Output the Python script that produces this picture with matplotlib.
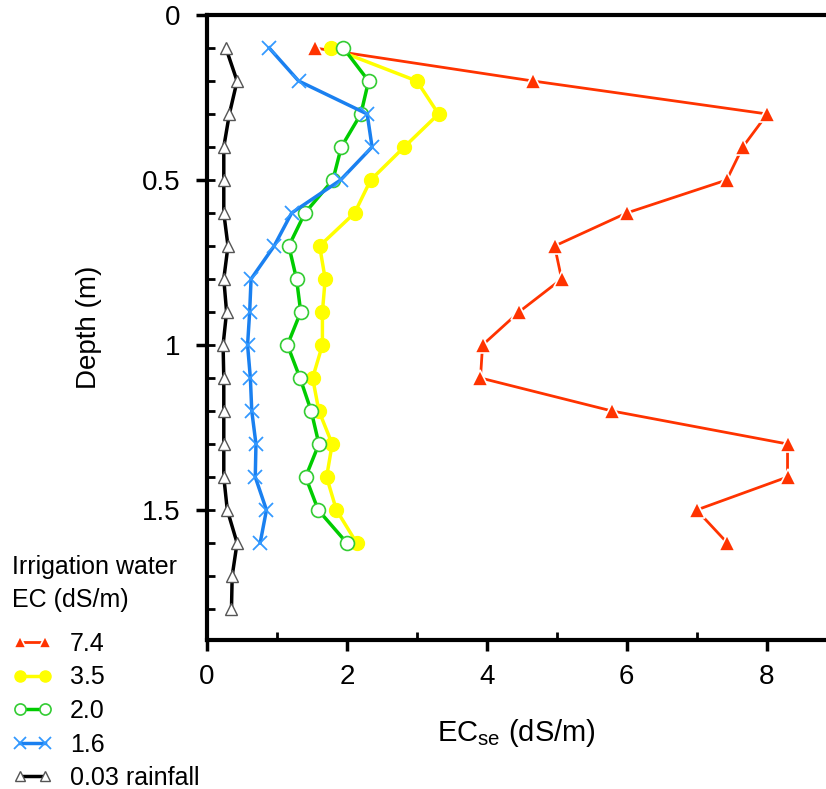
import matplotlib
matplotlib.use('Agg')
import matplotlib.pyplot as plt
from matplotlib.ticker import MultipleLocator

plt.rcParams['font.family'] = ['Liberation Sans', 'DejaVu Sans']
plt.rcParams['mathtext.fontset'] = 'custom'
plt.rcParams['mathtext.rm'] = 'Liberation Sans'

depth = [0.1, 0.2, 0.3, 0.4, 0.5, 0.6, 0.7, 0.8, 0.9, 1.0, 1.1, 1.2, 1.3, 1.4, 1.5, 1.6]
depth_rain = depth + [1.7, 1.8]

ec_74 = [1.54, 4.66, 8.01, 7.66, 7.43, 6.0, 4.97, 5.07, 4.46, 3.94, 3.91, 5.79, 8.3, 8.3, 7.0, 7.44]
ec_35 = [1.78, 3.0, 3.31, 2.82, 2.34, 2.11, 1.61, 1.69, 1.65, 1.65, 1.51, 1.60, 1.79, 1.71, 1.85, 2.14]
ec_20 = [1.95, 2.31, 2.2, 1.92, 1.80, 1.40, 1.17, 1.28, 1.34, 1.15, 1.33, 1.49, 1.60, 1.41, 1.59, 2.0]
ec_16 = [0.89, 1.31, 2.29, 2.36, 1.91, 1.21, 0.96, 0.63, 0.61, 0.58, 0.62, 0.64, 0.70, 0.69, 0.85, 0.76]
ec_rain = [0.27, 0.43, 0.32, 0.24, 0.24, 0.24, 0.30, 0.24, 0.28, 0.23, 0.24, 0.24, 0.24, 0.24,
           0.29, 0.43, 0.36, 0.35]

labels = ['7.4', '3.5', '2.0', '1.6', '0.03 rainfall']

W, H = 826, 789
fig = plt.figure(figsize=(W / 100, H / 100), dpi=100)
ax = fig.add_axes([207 / W, 1 - 640 / H, 1 - 207 / W, 625 / H])

ax.plot(ec_74, depth, color='#ff3300', lw=2, marker='^', ms=11, mfc='#ff3300',
        mec='white', mew=1.2, label=labels[0])
ax.plot(ec_35, depth, color='#ffff00', lw=2.5, marker='o', ms=10, mfc='#ffff00',
        mec='#ffff00', label=labels[1])
ax.plot(ec_20, depth, color='#00cc00', lw=2.5, marker='o', ms=10, mfc='white',
        mec='#33cc33', mew=1.2, label=labels[2])
ax.plot(ec_16, depth, color='#1a80f0', lw=2.5, marker='x', ms=10, mec='#3399ff',
        mew=1.3, label=labels[3])
ax.plot(ec_rain, depth_rain, color='black', lw=2.5, marker='^', ms=9, mfc='white',
        mec='#555555', mew=1.0, label=labels[4])

ax.set_xlim(0, 8.85)
ax.set_ylim(1.894, 0)

ax.xaxis.set_major_locator(MultipleLocator(2))
ax.xaxis.set_minor_locator(MultipleLocator(1))
ax.yaxis.set_minor_locator(MultipleLocator(0.1))
ax.yaxis.remove_overlapping_locs = False
ax.set_yticks([0, 0.5, 1, 1.5])
ax.set_yticklabels(['0', '0.5', '1', '1.5'])

ax.tick_params(which='major', direction='out', length=8, width=2.5, labelsize=20, pad=9)
ax.tick_params(which='minor', direction='in', length=6, width=2)
ax.tick_params(axis='y', which='major', pad=11)

for side in ['left', 'bottom', 'top']:
    ax.spines[side].set_linewidth(3)
ax.spines['right'].set_visible(False)

ax.set_xlabel('EC$_{\\mathrm{se}}$ (dS/m)', fontsize=21, labelpad=20)
ax.set_ylabel('Depth (m)', fontsize=20, labelpad=29)

# legend title as two plain text lines, entries below
fig.text(12 / W, 1 - 567 / H, 'Irrigation water', fontsize=18, ha='left', va='center')
fig.text(12 / W, 1 - 600 / H, 'EC (dS/m)', fontsize=18, ha='left', va='center')
fig.legend(loc='upper left', bbox_to_anchor=(12 / W, 1 - 632 / H), frameon=False,
           fontsize=18, numpoints=2, handlelength=1.6, handletextpad=0.72,
           labelspacing=0.38, markerscale=0.8, borderaxespad=0, borderpad=0)

fig.savefig('out.png', dpi=100)
